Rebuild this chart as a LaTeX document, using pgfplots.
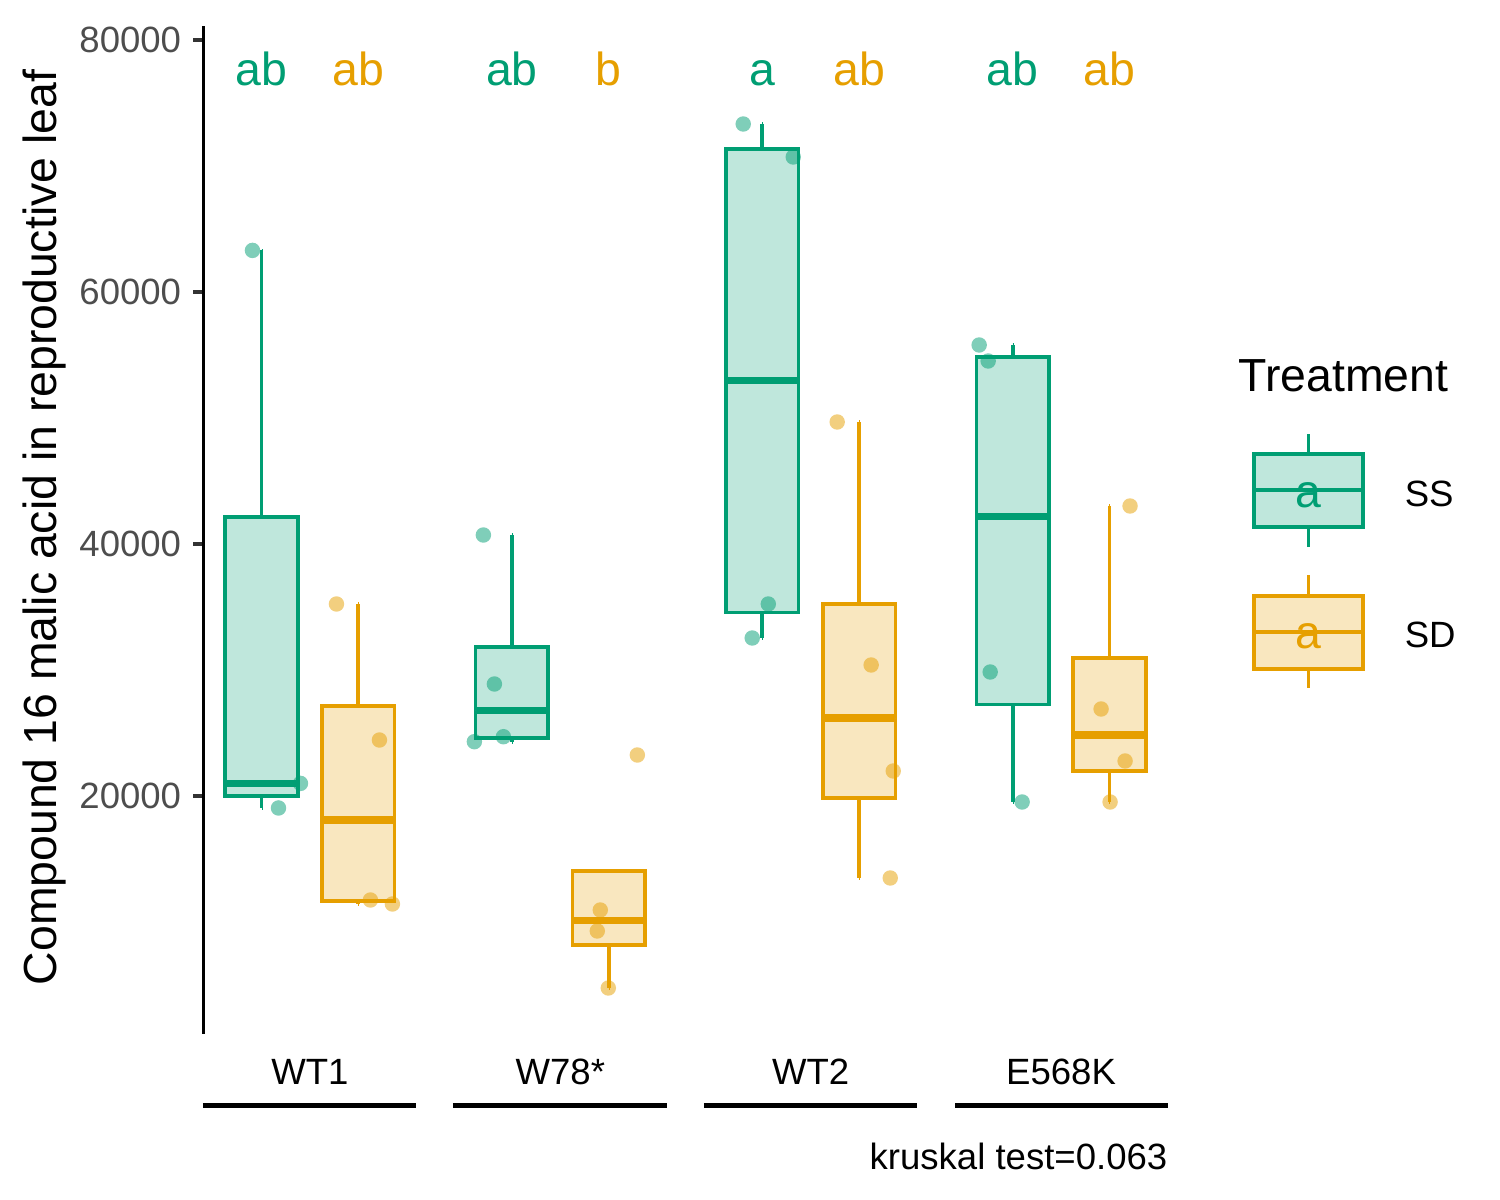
\documentclass[border=0pt]{standalone}
\usepackage{fontspec}
\setmainfont{Liberation Sans}
\usepackage{pgfplots}
\pgfplotsset{compat=1.18}
\usepgfplotslibrary{statistics}

\definecolor{ss}{RGB}{0,158,115}
\definecolor{sd}{RGB}{230,159,0}
\definecolor{ssfill}{RGB}{191,231,220}
\definecolor{sdfill}{RGB}{249,231,191}
\definecolor{tickgray}{RGB}{51,51,51}
\definecolor{labgray}{RGB}{77,77,77}

\newcommand{\ticksize}{\fontsize{10.4}{12}\selectfont}
\newcommand{\titlesize}{\fontsize{13.2}{15}\selectfont}

% values in thousands; quartiles are R type 7 from the jittered points
\pgfplotsset{
  ssbox/.style={ss, line width=1.05pt, fill=ssfill,
    boxplot/draw direction=y,
    boxplot/box extend=0.75, boxplot/whisker extend=0.001,
    boxplot/every median/.style={line width=2.1pt}},
  sdbox/.style={sd, line width=1.05pt, fill=sdfill,
    boxplot/draw direction=y,
    boxplot/box extend=0.75, boxplot/whisker extend=0.001,
    boxplot/every median/.style={line width=2.1pt}},
  dots/.style={only marks, mark=*, mark size=2.2pt,
    mark options={line width=0pt, draw=#1, fill=#1, fill opacity=0.5, draw opacity=0}},
}

\begin{document}
\begin{tikzpicture}
\begin{axis}[
  scale only axis, width=9.64cm, height=10.076cm,
  xmin=0.4, xmax=10.361, ymin=1.127, ymax=81.095,
  clip=false,
  axis lines=left, axis line style={-},
  x axis line style={draw=none},
  y axis line style={line width=1.1pt, black},
  tick align=outside, major tick length=0.1cm,
  xtick={1.5,4.087,6.674,9.261},
  xticklabels={WT1,W78*,WT2,E568K},
  xtick style={draw=none},
  xticklabel style={font=\ticksize, text=black, yshift=-0.03cm},
  ytick={20,40,60,80},
  yticklabels={20000,40000,60000,80000},
  ytick style={line width=1pt, tickgray},
  yticklabel style={font=\ticksize, text=labgray},
]
% WT1
\addplot[ssbox, boxplot prepared={draw position=1, lower whisker=19.050,
  lower quartile=20.025, median=21.000, upper quartile=42.150, upper whisker=63.300}] coordinates {};
\addplot[sdbox, boxplot prepared={draw position=2, lower whisker=11.429,
  lower quartile=11.667, median=18.095, upper quartile=27.143, upper whisker=35.238}] coordinates {};
% W78*
\addplot[ssbox, boxplot prepared={draw position=3.587, lower whisker=24.310,
  lower quartile=24.607, median=26.797, upper quartile=31.845, upper whisker=40.714}] coordinates {};
\addplot[sdbox, boxplot prepared={draw position=4.587, lower whisker=4.762,
  lower quartile=8.155, median=10.119, upper quartile=14.027, upper whisker=14.027}] coordinates {};
% WT2
\addplot[ssbox, boxplot prepared={draw position=6.174, lower whisker=32.540,
  lower quartile=34.564, median=52.976, upper quartile=71.369, upper whisker=73.333}] coordinates {};
\addplot[sdbox, boxplot prepared={draw position=7.174, lower whisker=13.492,
  lower quartile=19.861, median=26.190, upper quartile=35.218, upper whisker=49.683}] coordinates {};
% E568K
\addplot[ssbox, boxplot prepared={draw position=8.761, lower whisker=19.524,
  lower quartile=27.262, median=42.183, upper quartile=54.842, upper whisker=55.794}] coordinates {};
\addplot[sdbox, boxplot prepared={draw position=9.761, lower whisker=19.524,
  lower quartile=21.964, median=24.841, upper quartile=30.933, upper whisker=43.016}] coordinates {};

% jittered points
\addplot[dots=ss] coordinates {
  (0.906,63.300) (1.402,21.000) (1.175,19.050)
  (3.292,40.714) (3.406,28.889) (3.199,24.310) (3.499,24.706)
  (5.977,73.333) (6.494,70.714) (6.236,35.238) (6.070,32.540)
  (8.415,55.794) (8.508,54.524) (8.529,29.841) (8.859,19.524)
};
\addplot[dots=sd] coordinates {
  (1.774,35.238) (2.218,24.444) (2.125,11.746) (2.352,11.429)
  (4.883,23.254) (4.500,10.952) (4.469,9.286) (4.583,4.762)
  (6.948,49.683) (7.299,30.397) (7.527,21.984) (7.496,13.492)
  (9.974,43.016) (9.675,26.905) (9.923,22.778) (9.768,19.524)
};

% significance letters
\addplot[draw=none, mark=none, nodes near coords, point meta=explicit symbolic,
  nodes near coords style={anchor=base, inner sep=0pt, text=ss, font=\fontsize{13.2}{15}\selectfont}]
  coordinates {(1,76.35)[ab] (3.587,76.35)[ab] (6.174,76.35)[a] (8.761,76.35)[ab]};
\addplot[draw=none, mark=none, nodes near coords, point meta=explicit symbolic,
  nodes near coords style={anchor=base, inner sep=0pt, text=sd, font=\fontsize{13.2}{15}\selectfont}]
  coordinates {(2,76.35)[ab] (4.587,76.35)[b] (7.174,76.35)[ab] (9.761,76.35)[ab]};
\end{axis}

% everything else in picture cm (pixel/100, origin at bottom left of the page)
\begin{scope}[shift={(-2.035,-1.662)}]
\path[use as bounding box] (0,0) rectangle (15,12);

\node[rotate=90, anchor=base, inner sep=0pt, font=\titlesize] at (0.57,6.725)
  {Compound 16 malic acid in reproductive leaf};

\foreach \a/\b in {2.03/4.16, 4.53/6.67, 7.04/9.17, 9.55/11.68}
  \draw[line width=1.2pt] (\a,0.945) -- (\b,0.945);

\node[anchor=base east, inner sep=0pt, font=\ticksize] at (11.68,0.307) {kruskal test=0.063};

% legend
\node[anchor=base west, inner sep=0pt, font=\titlesize] at (12.38,8.08) {Treatment};
\begin{scope}[line width=1.05pt]
  \draw[ss] (13.085,7.46) -- (13.085,7.66) (13.085,6.73) -- (13.085,6.53);
  \draw[ss, fill=ssfill] (12.54,6.73) rectangle (13.63,7.46);
  \draw[ss] (12.54,7.10) -- (13.63,7.10);
  \node[text=ss, font=\fontsize{13.2}{15}\selectfont, inner sep=0pt] at (13.085,7.045) {a};
  \node[anchor=west, inner sep=0pt, font=\ticksize] at (14.03,7.06) {SS};

  \draw[sd] (13.085,6.04) -- (13.085,6.25) (13.085,5.31) -- (13.085,5.12);
  \draw[sd, fill=sdfill] (12.54,5.31) rectangle (13.63,6.04);
  \draw[sd] (12.54,5.68) -- (13.63,5.68);
  \node[text=sd, font=\fontsize{13.2}{15}\selectfont, inner sep=0pt] at (13.085,5.635) {a};
  \node[anchor=west, inner sep=0pt, font=\ticksize] at (14.03,5.65) {SD};
\end{scope}
\end{scope}
\end{tikzpicture}
\end{document}
